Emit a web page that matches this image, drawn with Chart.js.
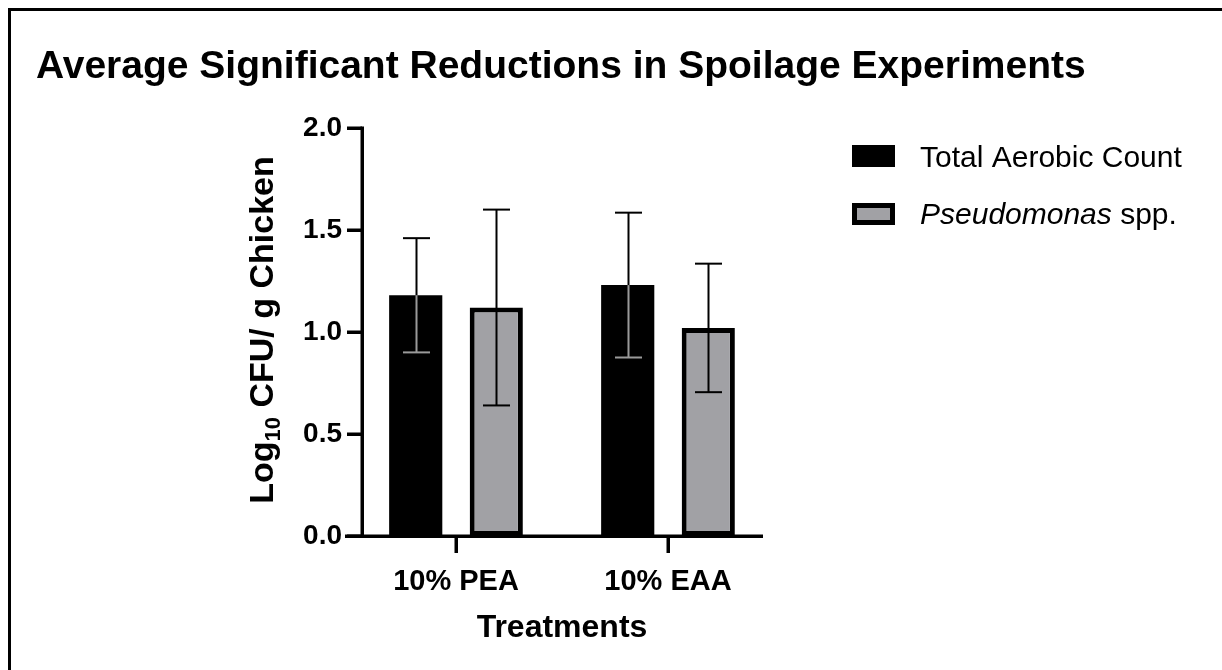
<!DOCTYPE html>
<html lang="en">
<head>
    <meta charset="UTF-8">
    <title>Average Significant Reductions in Spoilage Experiments</title>
    <script src="https://cdn.jsdelivr.net/npm/chart.js"></script>
    <style>
        body {
            margin: 0;
            padding: 0;
            background: #fff;
        }
        canvas {
            display: block;
        }
    </style>
</head>
<body>
    <canvas id="spoilageChart" width="1222" height="670"></canvas>

    <script>
        // data
        const treatments = ['10% PEA', '10% EAA'];
        const aerobicMean = [1.18, 1.23];
        const aerobicErr = [0.28, 0.355];
        const pseudoMean = [1.12, 1.02];
        const pseudoErr = [0.48, 0.315];
        const yTicks = [0, 0.5, 1.0, 1.5, 2.0];

        const FONT = '"Liberation Sans", Arial, sans-serif';
        const GREY = '#a1a1a5';

        // axes, error bars, legend, titles drawn on top of the bars
        const decorPlugin = {
            id: 'decor',
            afterDatasetsDraw(chart) {
                const ctx = chart.ctx;
                const x = chart.scales.x;
                const y = chart.scales.y;
                const area = chart.chartArea;
                const axisX = area.left + 12;
                const base = y.getPixelForValue(0);

                ctx.save();

                // frame (top and left edge of the figure panel)
                ctx.fillStyle = '#000';
                ctx.fillRect(8, 8, 1214, 3);
                ctx.fillRect(8, 8, 3, 662);

                // main title
                ctx.font = 'bold 39px ' + FONT;
                ctx.textBaseline = 'alphabetic';
                ctx.textAlign = 'left';
                ctx.fillText('Average Significant Reductions in Spoilage Experiments', 36, 78);

                // error bars
                const errs = [aerobicErr, pseudoErr];
                const means = [aerobicMean, pseudoMean];
                chart.data.datasets.forEach((ds, di) => {
                    const meta = chart.getDatasetMeta(di);
                    meta.data.forEach((bar, i) => {
                        const m = means[di][i];
                        const e = errs[di][i];
                        const top = y.getPixelForValue(m + e);
                        const bot = y.getPixelForValue(m - e);
                        const barTop = y.getPixelForValue(m);
                        const cx = Math.round(bar.x) + 0.5;
                        const half = 13.5;
                        ctx.lineWidth = 2;
                        const drawSeg = (y1, y2, col) => {
                            ctx.strokeStyle = col;
                            ctx.beginPath();
                            ctx.moveTo(cx, y1);
                            ctx.lineTo(cx, y2);
                            ctx.stroke();
                        };
                        const drawCap = (yy, col) => {
                            ctx.strokeStyle = col;
                            ctx.beginPath();
                            ctx.moveTo(cx - half, yy);
                            ctx.lineTo(cx + half, yy);
                            ctx.stroke();
                        };
                        if (di === 0) {
                            // on the black bar the inner part shows light
                            drawSeg(top, barTop, '#000');
                            drawSeg(barTop, bot, '#9a9a9a');
                            drawCap(top, top < barTop ? '#000' : '#9a9a9a');
                            drawCap(bot, bot < barTop ? '#000' : '#9a9a9a');
                        } else {
                            drawSeg(top, bot, '#000');
                            drawCap(top, '#000');
                            drawCap(bot, '#000');
                        }
                    });
                });

                // y axis line and ticks
                ctx.fillStyle = '#000';
                const yTop = y.getPixelForValue(2);
                ctx.fillRect(axisX - 1.5, yTop - 1.5, 3.5, base - yTop + 3);
                yTicks.forEach(v => {
                    const py = y.getPixelForValue(v);
                    ctx.fillRect(axisX - 15, py - 1.5, 15, 3.5);
                });

                // x axis line and ticks
                ctx.fillRect(area.left - 5, base - 1.5, area.right - 11 - (area.left - 5), 3.5);
                treatments.forEach((t, i) => {
                    const px = x.getPixelForValue(i);
                    ctx.fillRect(px - 1.5, base, 3.5, 17);
                });

                // y axis title with subscript
                ctx.save();
                ctx.translate(273, 330);
                ctx.rotate(-Math.PI / 2);
                const big = 'bold 34px ' + FONT;
                const small = 'bold 22px ' + FONT;
                ctx.font = big;
                const w1 = ctx.measureText('Log').width;
                const w3 = ctx.measureText(' CFU/ g Chicken').width;
                ctx.font = small;
                const w2 = ctx.measureText('10').width;
                let sx = -(w1 + w2 + w3) / 2;
                ctx.font = big;
                ctx.fillText('Log', sx, 0);
                sx += w1;
                ctx.font = small;
                ctx.fillText('10', sx, 7);
                sx += w2;
                ctx.font = big;
                ctx.fillText(' CFU/ g Chicken', sx, 0);
                ctx.restore();

                // legend
                ctx.fillStyle = '#000';
                ctx.fillRect(852, 145, 43, 22);
                ctx.fillRect(852, 203, 43, 22);
                ctx.fillStyle = GREY;
                ctx.fillRect(857, 208, 33, 12);

                ctx.fillStyle = '#000';
                ctx.font = '30px ' + FONT;
                ctx.fillText('Total Aerobic Count', 920, 167);
                ctx.font = 'italic 30px ' + FONT;
                ctx.fillText('Pseudomonas', 920, 224);
                const wi = ctx.measureText('Pseudomonas').width;
                ctx.font = '30px ' + FONT;
                ctx.fillText(' spp.', 920 + wi, 224);

                ctx.restore();
            }
        };

        const ctx = document.getElementById('spoilageChart').getContext('2d');
        const spoilageChart = new Chart(ctx, {
            type: 'bar',
            data: {
                labels: treatments,
                datasets: [
                    {
                        label: 'Total Aerobic Count',
                        data: aerobicMean,
                        backgroundColor: '#000',
                        borderWidth: 0,
                    },
                    {
                        label: 'Pseudomonas spp.',
                        data: pseudoMean,
                        backgroundColor: GREY,
                        borderColor: '#000',
                        borderWidth: 5,
                        borderSkipped: false,
                    }
                ]
            },
            options: {
                responsive: false,
                animation: false,
                devicePixelRatio: 1,
                layout: {
                    padding: { left: 0, top: 128, right: 448, bottom: 23 }
                },
                datasets: {
                    bar: {
                        categoryPercentage: 0.76,
                        barPercentage: 0.66,
                    }
                },
                plugins: {
                    legend: { display: false },
                    title: { display: false },
                    tooltip: { enabled: false },
                },
                scales: {
                    x: {
                        grid: { display: false, drawTicks: false },
                        border: { display: false },
                        ticks: {
                            color: '#000',
                            padding: 29,
                            font: { family: FONT, size: 29, weight: 'bold' },
                        },
                        title: {
                            display: true,
                            text: 'Treatments',
                            color: '#000',
                            padding: 0,
                            font: { family: FONT, size: 32, weight: 'bold' },
                        },
                        afterFit(scale) { scale.height = 111; }
                    },
                    y: {
                        min: 0,
                        max: 2,
                        grid: { display: false, drawTicks: false },
                        border: { display: false },
                        ticks: {
                            stepSize: 0.5,
                            color: '#000',
                            padding: 8,
                            font: { family: FONT, size: 28, weight: 'bold' },
                            callback: v => v.toFixed(1),
                        },
                        afterFit(scale) { scale.width = 350; }
                    }
                }
            },
            plugins: [decorPlugin]
        });
    </script>
</body>
</html>
